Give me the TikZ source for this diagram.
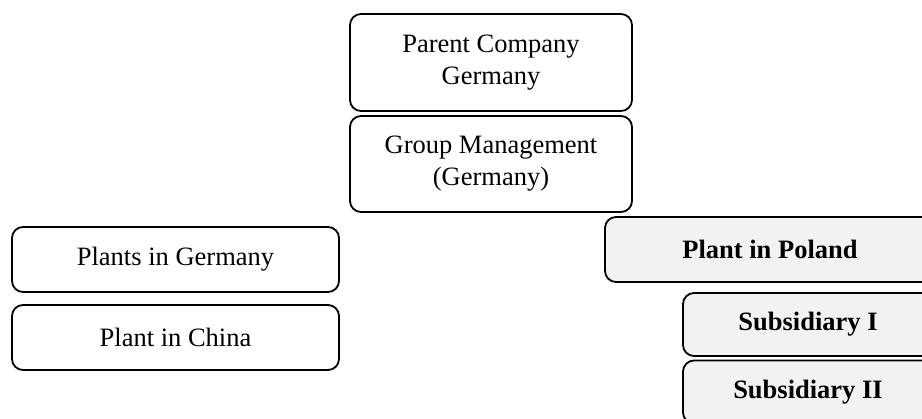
\documentclass[tikz,border=0pt]{standalone}
\usepackage{fontspec}
\setmainfont{Liberation Serif}
\definecolor{boxgray}{HTML}{F2F2F2}
\tikzset{
  orgbox/.style={draw=black, line width=1.8pt, rounded corners=11pt, fill=white,
    align=center, inner sep=0pt, font=\fontsize{26.5}{32}\selectfont},
  graybox/.style={orgbox, fill=boxgray, font=\fontsize{26.5}{32}\selectfont\bfseries}
}
\begin{document}
\begin{tikzpicture}[x=1pt,y=-1pt]
\useasboundingbox (0,0) rectangle (922,419);
\clip (0,0) rectangle (922,419);
\fill[white] (0,0) rectangle (922,419);
\node[orgbox, minimum width=282pt, minimum height=97pt] (parent) at (491,62.5) {Parent Company\\Germany};
\node[orgbox, minimum width=282pt, minimum height=96pt] (group) at (491,164) {Group Management\\(Germany)};
\node[orgbox, minimum width=327pt, minimum height=65pt] (germany) at (175.5,259.5) {Plants in Germany};
\node[orgbox, minimum width=327pt, minimum height=65pt] (china) at (175.5,337.5) {Plant in China};
\node[graybox, minimum width=330pt, minimum height=65pt] (poland) at (770,249.5) {Plant in Poland};
\node[graybox, minimum width=250pt, minimum height=63pt] (sub1) at (808,324.5) {Subsidiary I};
\node[graybox, minimum width=250pt, minimum height=63pt] (sub2) at (808,392) {Subsidiary II};
\end{tikzpicture}
\end{document}
